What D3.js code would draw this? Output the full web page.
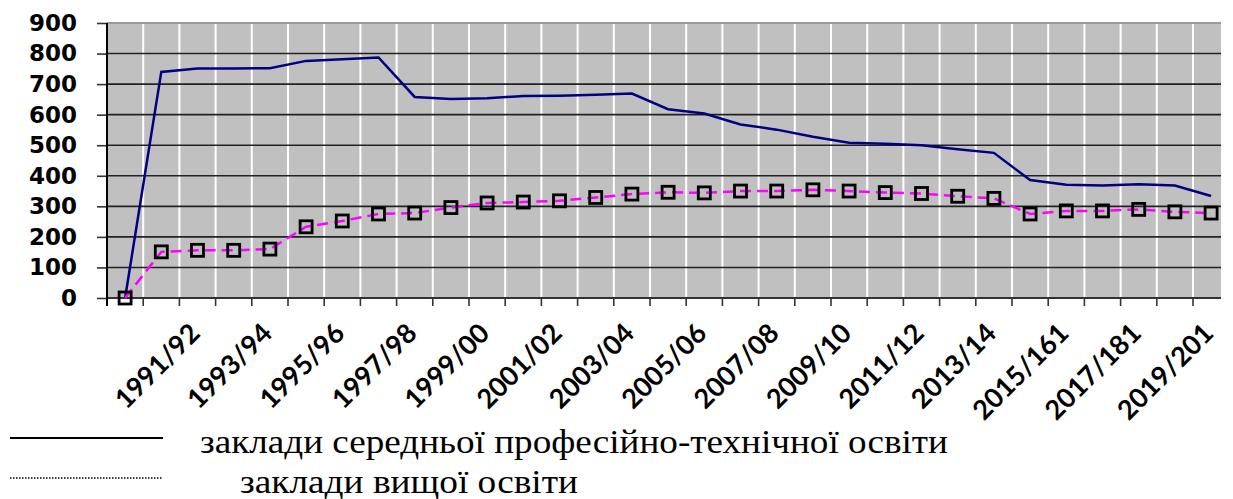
<!DOCTYPE html>
<html>
<head>
<meta charset="utf-8">
<script src="https://cdn.jsdelivr.net/npm/d3@7"></script>
<style>
  body { margin: 0; background: #fff; }
  .legend-text { font-family: "Liberation Serif", "DejaVu Serif", "Times New Roman", serif; }
  .x-label { font-family: Lato, "Open Sans", sans-serif; font-weight: 700; }
</style>
</head>
<body>
<div id="chart"></div>
<script>
// categories (first slot is an empty header row plotted at 0)
const years = ["", "1990/91", "1991/92", "1992/93", "1993/94", "1994/95", "1995/96",
  "1996/97", "1997/98", "1998/99", "1999/00", "2000/01", "2001/02", "2002/03",
  "2003/04", "2004/05", "2005/06", "2006/07", "2007/08", "2008/09", "2009/10",
  "2010/11", "2011/12", "2012/13", "2013/14", "2014/15", "2015/161", "2016/17",
  "2017/181", "2018/19", "2019/201"];

const vocational = [0, 740, 751, 751, 752, 776, 781, 787, 658, 651, 654, 661, 662,
  665, 669, 618, 604, 568, 551, 528, 508, 505, 500, 487, 475, 386, 371, 368, 372, 368, 334];

const higher = [0, 151, 156, 156, 160, 233, 252, 275, 278, 296, 311, 314, 318, 329,
  340, 346, 344, 350, 350, 354, 350, 345, 342, 333, 326, 275, 285, 285, 290, 282, 278];

const yTicks = [0, 100, 200, 300, 400, 500, 600, 700, 800, 900];

const legendLabels = ["заклади середньої професійно-технічної освіти", "заклади вищої освіти"];

const width = 1233, height = 499;
const plotLeft = 107, plotTop = 23, plotBottom = 298, step = 36.2, clipRight = 1221;

const svg = d3.select("#chart").append("svg")
  .attr("width", width)
  .attr("height", height);

const x = d3.scaleBand()
  .domain(years.map((d, i) => i))
  .range([plotLeft, plotLeft + step * years.length]);
const bw = x.bandwidth();
const cx = i => x(i) + bw / 2;

const y = d3.scaleLinear().domain([0, 900]).range([plotBottom, plotTop]);

svg.append("defs").append("clipPath").attr("id", "plot-clip")
  .append("rect")
  .attr("x", plotLeft).attr("y", plotTop - 2)
  .attr("width", clipRight - plotLeft).attr("height", plotBottom - plotTop + 4);

const plot = svg.append("g").attr("clip-path", "url(#plot-clip)");

plot.append("rect")
  .attr("x", plotLeft).attr("y", plotTop)
  .attr("width", x.range()[1] - plotLeft).attr("height", plotBottom - plotTop)
  .attr("fill", "#c0c0c0");

// vertical white separators
plot.selectAll(".vgrid")
  .data(d3.range(1, years.length))
  .join("line")
  .attr("x1", i => x(i)).attr("x2", i => x(i))
  .attr("y1", plotTop).attr("y2", plotBottom)
  .attr("stroke", "#fff").attr("stroke-width", 2);

// horizontal grid
plot.selectAll(".hgrid")
  .data(yTicks.filter(v => v > 0 && v < 900))
  .join("line")
  .attr("x1", plotLeft).attr("x2", clipRight)
  .attr("y1", d => y(d)).attr("y2", d => y(d))
  .attr("stroke", "#222").attr("stroke-width", 1.6);

plot.append("line")
  .attr("x1", plotLeft).attr("x2", clipRight)
  .attr("y1", y(900)).attr("y2", y(900))
  .attr("stroke", "#999").attr("stroke-width", 2);

plot.append("line")
  .attr("x1", plotLeft).attr("x2", clipRight)
  .attr("y1", y(0)).attr("y2", y(0))
  .attr("stroke", "#333").attr("stroke-width", 2);

// y axis
const yAxis = svg.append("g")
  .attr("transform", `translate(${plotLeft},0)`)
  .call(d3.axisLeft(y).tickValues(yTicks).tickSize(10).tickPadding(20));
yAxis.select(".domain").remove();
yAxis.append("line")
  .attr("x1", 0).attr("x2", 0)
  .attr("y1", plotTop).attr("y2", plotBottom + 8)
  .attr("stroke", "#000").attr("stroke-width", 2);
yAxis.selectAll(".tick line").attr("stroke", "#333").attr("stroke-width", 1.6);
yAxis.selectAll(".tick text")
  .attr("fill", "#000")
  .attr("font-family", "DejaVu Sans")
  .attr("font-weight", "bold")
  .attr("font-size", 23);

// x tick marks at category boundaries
svg.selectAll(".xtick")
  .data(d3.range(1, years.length).filter(i => x(i) < clipRight))
  .join("line")
  .attr("x1", i => x(i)).attr("x2", i => x(i))
  .attr("y1", plotBottom).attr("y2", plotBottom + 8)
  .attr("stroke", "#333").attr("stroke-width", 1.6);

// x labels every second category
svg.selectAll(".xlabel")
  .data(d3.range(2, years.length, 2))
  .join("text")
  .attr("class", "x-label")
  .attr("transform", i => `translate(${cx(i) + 4},335) rotate(-45)`)
  .attr("text-anchor", "end")
  .attr("font-size", 27)
  .text(i => years[i]);

// series
const line = vals => d3.line()
  .x((d, i) => cx(i))
  .y(d => y(d))(vals);

svg.append("path")
  .attr("d", line(vocational))
  .attr("fill", "none")
  .attr("stroke", "#000080")
  .attr("stroke-width", 2.5);

svg.append("path")
  .attr("d", line(higher))
  .attr("fill", "none")
  .attr("stroke", "#ff00ff")
  .attr("stroke-width", 2.5)
  .attr("stroke-dasharray", "11,6");

svg.selectAll(".marker")
  .data(higher)
  .join("rect")
  .attr("x", (d, i) => cx(i) - 6)
  .attr("y", d => y(d) - 6)
  .attr("width", 12).attr("height", 12)
  .attr("fill", "none")
  .attr("stroke", "#000")
  .attr("stroke-width", 2.8);

// legend
const legend = svg.append("g");
legend.append("line")
  .attr("x1", 10).attr("x2", 163).attr("y1", 438).attr("y2", 438)
  .attr("stroke", "#000").attr("stroke-width", 2);
legend.append("line")
  .attr("x1", 10).attr("x2", 163).attr("y1", 478).attr("y2", 478)
  .attr("stroke", "#000").attr("stroke-width", 1.5)
  .attr("stroke-dasharray", "1.5,1.5");
legend.selectAll(".legend-text")
  .data(legendLabels)
  .join("text")
  .attr("class", "legend-text")
  .attr("x", (d, i) => i === 0 ? 200 : 240)
  .attr("y", (d, i) => i === 0 ? 453 : 493)
  .attr("font-size", 34)
  .attr("textLength", (d, i) => i === 0 ? 748 : 338)
  .attr("lengthAdjust", "spacingAndGlyphs")
  .text(d => d);
</script>
</body>
</html>
